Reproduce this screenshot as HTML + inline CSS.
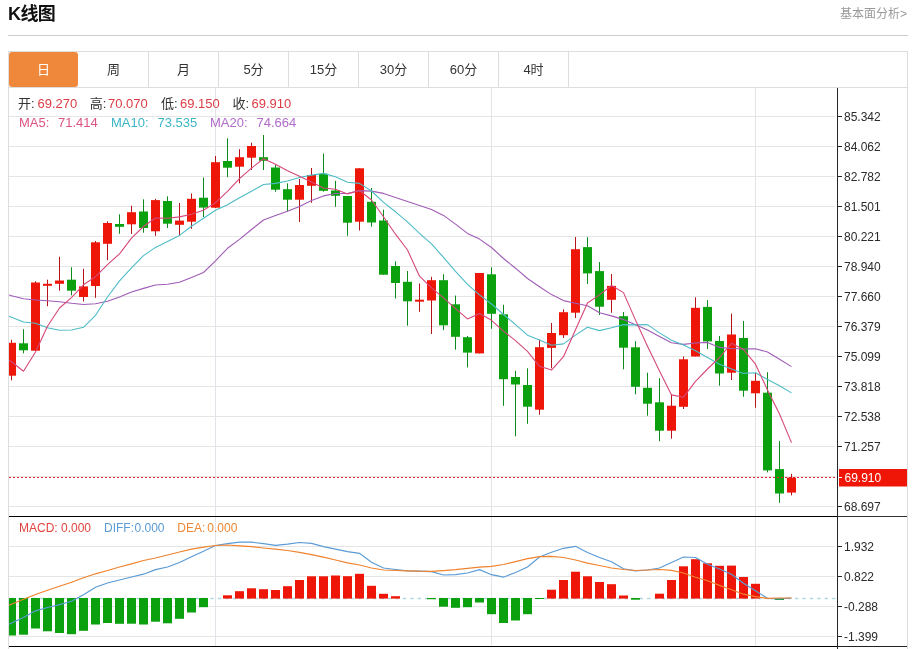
<!DOCTYPE html>
<html lang="zh-CN">
<head>
<meta charset="utf-8">
<title>K线图</title>
<style>
html,body{margin:0;padding:0;background:#fff;}
body{width:912px;height:649px;position:relative;overflow:hidden;font-family:"Liberation Sans","Noto Sans CJK SC",sans-serif;color:#333;}
.title{position:absolute;left:8px;top:2.4px;font-size:18px;line-height:24px;font-weight:bold;color:#111;letter-spacing:-0.6px;white-space:nowrap;}
.more{position:absolute;right:5px;top:5px;font-size:12px;line-height:18px;color:#999;white-space:nowrap;}
.hr{position:absolute;left:8px;top:35px;width:900px;height:1px;background:#ccc;}
.tabs{position:absolute;left:8px;top:51px;width:898px;height:35px;border:1px solid #ddd;}
.tab{position:absolute;top:0;width:69px;height:35px;border-right:1px solid #ddd;font-size:13px;line-height:36px;text-align:center;color:#333;}
.tab.on{background:#f0883c;color:#fff;border-radius:3px;border-right:0;width:69px;}
.chart{position:absolute;left:0;top:0;}
</style>
</head>
<body>
<div class="title">K线图</div>
<div class="more">基本面分析&gt;</div>
<div class="hr"></div>
<div class="tabs">
<div class="tab on" style="left:0">日</div>
<div class="tab" style="left:70px">周</div>
<div class="tab" style="left:140px">月</div>
<div class="tab" style="left:210px">5分</div>
<div class="tab" style="left:280px">15分</div>
<div class="tab" style="left:350px">30分</div>
<div class="tab" style="left:420px">60分</div>
<div class="tab" style="left:490px">4时</div>
</div>
<svg class="chart" width="912" height="649" viewBox="0 0 912 649" font-family="'Liberation Sans', 'Noto Sans CJK SC', sans-serif">
<defs><clipPath id="cp"><rect x="9" y="88" width="828" height="560"/></clipPath></defs>
<rect x="9" y="116" width="826" height="1" fill="#e5e5e6"/>
<rect x="9" y="146" width="826" height="1" fill="#e5e5e6"/>
<rect x="9" y="176" width="826" height="1" fill="#e5e5e6"/>
<rect x="9" y="206" width="826" height="1" fill="#e5e5e6"/>
<rect x="9" y="236" width="826" height="1" fill="#e5e5e6"/>
<rect x="9" y="266" width="826" height="1" fill="#e5e5e6"/>
<rect x="9" y="296" width="826" height="1" fill="#e5e5e6"/>
<rect x="9" y="326" width="826" height="1" fill="#e5e5e6"/>
<rect x="9" y="356" width="826" height="1" fill="#e5e5e6"/>
<rect x="9" y="386" width="826" height="1" fill="#e5e5e6"/>
<rect x="9" y="416" width="826" height="1" fill="#e5e5e6"/>
<rect x="9" y="446" width="826" height="1" fill="#e5e5e6"/>
<rect x="9" y="476" width="826" height="1" fill="#e5e5e6"/>
<rect x="9" y="506" width="826" height="1" fill="#e5e5e6"/>
<rect x="9" y="546" width="826" height="1" fill="#e5e5e6"/>
<rect x="9" y="576" width="826" height="1" fill="#e5e5e6"/>
<rect x="9" y="606" width="826" height="1" fill="#e5e5e6"/>
<rect x="9" y="636" width="826" height="1" fill="#e5e5e6"/>
<rect x="215" y="88" width="1" height="558" fill="#e3e4ea"/>
<rect x="491" y="88" width="1" height="558" fill="#e3e4ea"/>
<rect x="755" y="88" width="1" height="558" fill="#e3e4ea"/>
<rect x="8" y="88" width="1" height="561" fill="#ddd"/>
<rect x="907" y="88" width="1" height="561" fill="#ddd"/>
<g clip-path="url(#cp)">
<line x1="9" y1="598.5" x2="837" y2="598.5" stroke="#b2d5de" stroke-width="1.3" stroke-dasharray="3.4 4" stroke-dashoffset="-1.6"/>
<rect x="7.0" y="598" width="9" height="37.5" fill="#0aa00e"/>
<rect x="19.0" y="598" width="9" height="36.7" fill="#0aa00e"/>
<rect x="31.0" y="598" width="9" height="30.5" fill="#0aa00e"/>
<rect x="43.0" y="598" width="9" height="33.3" fill="#0aa00e"/>
<rect x="55.0" y="598" width="9" height="35.0" fill="#0aa00e"/>
<rect x="67.0" y="598" width="9" height="36.2" fill="#0aa00e"/>
<rect x="79.0" y="598" width="9" height="32.8" fill="#0aa00e"/>
<rect x="91.0" y="598" width="9" height="26.5" fill="#0aa00e"/>
<rect x="103.0" y="598" width="9" height="25.0" fill="#0aa00e"/>
<rect x="115.0" y="598" width="9" height="25.8" fill="#0aa00e"/>
<rect x="127.0" y="598" width="9" height="25.7" fill="#0aa00e"/>
<rect x="139.0" y="598" width="9" height="26.5" fill="#0aa00e"/>
<rect x="151.0" y="598" width="9" height="23.7" fill="#0aa00e"/>
<rect x="163.0" y="598" width="9" height="25.3" fill="#0aa00e"/>
<rect x="175.0" y="598" width="9" height="20.8" fill="#0aa00e"/>
<rect x="187.0" y="598" width="9" height="14.5" fill="#0aa00e"/>
<rect x="199.0" y="598" width="9" height="9.2" fill="#0aa00e"/>
<rect x="223.0" y="595.3" width="9" height="3.3" fill="#ee1608"/>
<rect x="235.0" y="591.2" width="9" height="7.4" fill="#ee1608"/>
<rect x="247.0" y="588.3" width="9" height="10.3" fill="#ee1608"/>
<rect x="259.0" y="589.2" width="9" height="9.4" fill="#ee1608"/>
<rect x="271.0" y="590.0" width="9" height="8.6" fill="#ee1608"/>
<rect x="283.0" y="586.2" width="9" height="12.4" fill="#ee1608"/>
<rect x="295.0" y="580.0" width="9" height="18.6" fill="#ee1608"/>
<rect x="307.0" y="576.3" width="9" height="22.3" fill="#ee1608"/>
<rect x="319.0" y="576.3" width="9" height="22.3" fill="#ee1608"/>
<rect x="331.0" y="575.5" width="9" height="23.1" fill="#ee1608"/>
<rect x="343.0" y="576.2" width="9" height="22.4" fill="#ee1608"/>
<rect x="355.0" y="573.8" width="9" height="24.8" fill="#ee1608"/>
<rect x="367.0" y="585.8" width="9" height="12.8" fill="#ee1608"/>
<rect x="379.0" y="593.8" width="9" height="4.8" fill="#ee1608"/>
<rect x="391.0" y="596.2" width="9" height="2.4" fill="#ee1608"/>
<rect x="427.0" y="598" width="9" height="1.2" fill="#0aa00e"/>
<rect x="439.0" y="598" width="9" height="8.7" fill="#0aa00e"/>
<rect x="451.0" y="598" width="9" height="9.8" fill="#0aa00e"/>
<rect x="463.0" y="598" width="9" height="9.2" fill="#0aa00e"/>
<rect x="475.0" y="598" width="9" height="4.5" fill="#0aa00e"/>
<rect x="487.0" y="598" width="9" height="16.2" fill="#0aa00e"/>
<rect x="499.0" y="598" width="9" height="25.0" fill="#0aa00e"/>
<rect x="511.0" y="598" width="9" height="22.5" fill="#0aa00e"/>
<rect x="523.0" y="598" width="9" height="16.2" fill="#0aa00e"/>
<rect x="535.0" y="598" width="9" height="1.0" fill="#0aa00e"/>
<rect x="547.0" y="589.7" width="9" height="8.9" fill="#ee1608"/>
<rect x="559.0" y="580.0" width="9" height="18.6" fill="#ee1608"/>
<rect x="571.0" y="571.7" width="9" height="26.9" fill="#ee1608"/>
<rect x="583.0" y="576.3" width="9" height="22.3" fill="#ee1608"/>
<rect x="595.0" y="582.0" width="9" height="16.6" fill="#ee1608"/>
<rect x="607.0" y="584.2" width="9" height="14.4" fill="#ee1608"/>
<rect x="619.0" y="595.5" width="9" height="3.1" fill="#ee1608"/>
<rect x="631.0" y="598" width="9" height="1.7" fill="#0aa00e"/>
<rect x="655.0" y="593.7" width="9" height="4.9" fill="#ee1608"/>
<rect x="667.0" y="580.0" width="9" height="18.6" fill="#ee1608"/>
<rect x="679.0" y="566.3" width="9" height="32.3" fill="#ee1608"/>
<rect x="691.0" y="559.2" width="9" height="39.4" fill="#ee1608"/>
<rect x="703.0" y="563.3" width="9" height="35.3" fill="#ee1608"/>
<rect x="715.0" y="565.8" width="9" height="32.8" fill="#ee1608"/>
<rect x="727.0" y="565.6" width="9" height="33.0" fill="#ee1608"/>
<rect x="739.0" y="577.0" width="9" height="21.6" fill="#ee1608"/>
<rect x="751.0" y="583.8" width="9" height="14.8" fill="#ee1608"/>
<rect x="775.0" y="598" width="9" height="2.0" fill="#0aa00e"/>
<path d="M-0.5 628.0 L11.5 623.0 L23.5 617.5 L35.5 610.8 L47.5 607.5 L59.5 604.7 L71.5 601.3 L83.5 594.7 L95.5 587.2 L107.5 583.0 L119.5 580.0 L131.5 577.0 L143.5 574.2 L155.5 569.7 L167.5 567.0 L179.5 562.5 L191.5 556.7 L203.5 551.3 L215.5 545.5 L227.5 543.7 L239.5 542.2 L251.5 542.2 L263.5 543.7 L275.5 545.3 L287.5 544.2 L299.5 542.5 L311.5 543.3 L323.5 546.7 L335.5 549.2 L347.5 551.7 L359.5 553.3 L371.5 562.2 L383.5 568.0 L395.5 569.5 L407.5 570.8 L419.5 571.2 L431.5 571.7 L443.5 575.0 L455.5 574.7 L467.5 573.0 L479.5 569.7 L491.5 574.7 L503.5 577.2 L515.5 572.5 L527.5 567.0 L539.5 557.0 L551.5 552.2 L563.5 548.3 L575.5 546.3 L587.5 552.5 L599.5 557.5 L611.5 561.7 L623.5 568.8 L635.5 570.8 L647.5 570.0 L659.5 568.0 L671.5 562.5 L683.5 557.0 L695.5 557.5 L707.5 564.2 L719.5 569.0 L731.5 574.2 L743.5 583.3 L755.5 590.8 L767.5 598.3 L779.5 598.8 L791.5 598.0" fill="none" stroke="#5b9bd5" stroke-width="1.2"/>
<path d="M-0.5 609.0 L11.5 604.2 L23.5 599.2 L35.5 594.5 L47.5 590.3 L59.5 586.3 L71.5 582.2 L83.5 577.8 L95.5 573.8 L107.5 570.5 L119.5 567.0 L131.5 563.8 L143.5 560.5 L155.5 558.0 L167.5 555.0 L179.5 552.0 L191.5 549.2 L203.5 547.2 L215.5 545.5 L227.5 545.0 L239.5 545.8 L251.5 546.7 L263.5 548.0 L275.5 549.2 L287.5 550.5 L299.5 552.3 L311.5 554.7 L323.5 557.2 L335.5 560.0 L347.5 562.8 L359.5 565.0 L371.5 568.0 L383.5 570.0 L395.5 570.5 L407.5 570.8 L419.5 571.2 L431.5 571.3 L443.5 570.6 L455.5 569.7 L467.5 568.3 L479.5 567.2 L491.5 566.3 L503.5 564.5 L515.5 561.7 L527.5 558.7 L539.5 556.7 L551.5 556.3 L563.5 557.5 L575.5 560.0 L587.5 563.2 L599.5 565.5 L611.5 568.0 L623.5 569.5 L635.5 570.5 L647.5 570.0 L659.5 569.5 L671.5 570.3 L683.5 573.0 L695.5 577.2 L707.5 580.8 L719.5 585.4 L731.5 589.8 L743.5 594.2 L755.5 596.7 L767.5 598.3 L779.5 598.0 L791.5 598.0" fill="none" stroke="#f0832e" stroke-width="1.2"/>
<rect x="11.0" y="339.8" width="1" height="40.5" fill="#b4141a"/>
<rect x="7.0" y="342.8" width="9" height="32.9" fill="#ee1608"/>
<rect x="23.0" y="329.2" width="1" height="24.1" fill="#0d8a1c"/>
<rect x="19.0" y="343.3" width="9" height="7.0" fill="#0aa00e"/>
<rect x="35.0" y="281.3" width="1" height="69.7" fill="#b4141a"/>
<rect x="31.0" y="282.5" width="9" height="68.2" fill="#ee1608"/>
<rect x="47.0" y="279.7" width="1" height="26.5" fill="#b4141a"/>
<rect x="43.0" y="283.8" width="9" height="2.0" fill="#ee1608"/>
<rect x="59.0" y="256.8" width="1" height="33.9" fill="#b4141a"/>
<rect x="55.0" y="280.5" width="9" height="3.3" fill="#ee1608"/>
<rect x="71.0" y="267.2" width="1" height="28.1" fill="#0d8a1c"/>
<rect x="67.0" y="279.7" width="9" height="11.0" fill="#0aa00e"/>
<rect x="83.0" y="268.8" width="1" height="32.7" fill="#b4141a"/>
<rect x="79.0" y="286.4" width="9" height="10.6" fill="#ee1608"/>
<rect x="95.0" y="241.0" width="1" height="56.8" fill="#b4141a"/>
<rect x="91.0" y="242.3" width="9" height="43.7" fill="#ee1608"/>
<rect x="107.0" y="221.3" width="1" height="38.9" fill="#b4141a"/>
<rect x="103.0" y="223.0" width="9" height="20.8" fill="#ee1608"/>
<rect x="119.0" y="214.3" width="1" height="19.5" fill="#0d8a1c"/>
<rect x="115.0" y="224.0" width="9" height="2.8" fill="#0aa00e"/>
<rect x="131.0" y="205.7" width="1" height="28.1" fill="#b4141a"/>
<rect x="127.0" y="212.2" width="9" height="12.1" fill="#ee1608"/>
<rect x="143.0" y="199.3" width="1" height="33.4" fill="#0d8a1c"/>
<rect x="139.0" y="211.5" width="9" height="16.5" fill="#0aa00e"/>
<rect x="155.0" y="198.8" width="1" height="37.0" fill="#b4141a"/>
<rect x="151.0" y="200.1" width="9" height="31.2" fill="#ee1608"/>
<rect x="167.0" y="196.3" width="1" height="31.7" fill="#0d8a1c"/>
<rect x="163.0" y="201.0" width="9" height="22.7" fill="#0aa00e"/>
<rect x="179.0" y="203.0" width="1" height="32.5" fill="#b4141a"/>
<rect x="175.0" y="220.6" width="9" height="4.2" fill="#ee1608"/>
<rect x="191.0" y="193.5" width="1" height="35.3" fill="#b4141a"/>
<rect x="187.0" y="198.8" width="9" height="22.9" fill="#ee1608"/>
<rect x="203.0" y="177.5" width="1" height="39.5" fill="#0d8a1c"/>
<rect x="199.0" y="197.7" width="9" height="9.9" fill="#0aa00e"/>
<rect x="215.0" y="156.0" width="1" height="52.0" fill="#b4141a"/>
<rect x="211.0" y="162.2" width="9" height="45.5" fill="#ee1608"/>
<rect x="227.0" y="138.3" width="1" height="38.9" fill="#0d8a1c"/>
<rect x="223.0" y="161.0" width="9" height="6.7" fill="#0aa00e"/>
<rect x="239.0" y="149.2" width="1" height="34.1" fill="#b4141a"/>
<rect x="235.0" y="157.2" width="9" height="9.5" fill="#ee1608"/>
<rect x="251.0" y="142.7" width="1" height="27.3" fill="#b4141a"/>
<rect x="247.0" y="146.0" width="9" height="11.7" fill="#ee1608"/>
<rect x="263.0" y="135.0" width="1" height="35.0" fill="#0d8a1c"/>
<rect x="259.0" y="157.2" width="9" height="3.6" fill="#0aa00e"/>
<rect x="275.0" y="165.0" width="1" height="26.8" fill="#0d8a1c"/>
<rect x="271.0" y="167.5" width="9" height="22.2" fill="#0aa00e"/>
<rect x="287.0" y="183.3" width="1" height="28.0" fill="#0d8a1c"/>
<rect x="283.0" y="189.2" width="9" height="10.5" fill="#0aa00e"/>
<rect x="299.0" y="179.0" width="1" height="43.0" fill="#b4141a"/>
<rect x="295.0" y="185.0" width="9" height="14.7" fill="#ee1608"/>
<rect x="311.0" y="168.0" width="1" height="34.7" fill="#b4141a"/>
<rect x="307.0" y="175.0" width="9" height="10.8" fill="#ee1608"/>
<rect x="323.0" y="153.5" width="1" height="38.2" fill="#0d8a1c"/>
<rect x="319.0" y="173.8" width="9" height="17.0" fill="#0aa00e"/>
<rect x="335.0" y="180.8" width="1" height="25.9" fill="#0d8a1c"/>
<rect x="331.0" y="190.5" width="9" height="5.3" fill="#0aa00e"/>
<rect x="347.0" y="196.0" width="1" height="39.8" fill="#0d8a1c"/>
<rect x="343.0" y="196.0" width="9" height="26.7" fill="#0aa00e"/>
<rect x="359.0" y="168.3" width="1" height="62.2" fill="#b4141a"/>
<rect x="355.0" y="168.3" width="9" height="53.4" fill="#ee1608"/>
<rect x="371.0" y="188.0" width="1" height="38.7" fill="#0d8a1c"/>
<rect x="367.0" y="201.8" width="9" height="20.7" fill="#0aa00e"/>
<rect x="383.0" y="209.7" width="1" height="65.0" fill="#0d8a1c"/>
<rect x="379.0" y="220.5" width="9" height="54.2" fill="#0aa00e"/>
<rect x="395.0" y="261.3" width="1" height="37.2" fill="#0d8a1c"/>
<rect x="391.0" y="266.0" width="9" height="17.0" fill="#0aa00e"/>
<rect x="407.0" y="271.0" width="1" height="54.7" fill="#0d8a1c"/>
<rect x="403.0" y="281.8" width="9" height="19.5" fill="#0aa00e"/>
<rect x="419.0" y="283.5" width="1" height="28.3" fill="#b4141a"/>
<rect x="415.0" y="299.7" width="9" height="2.0" fill="#ee1608"/>
<rect x="431.0" y="276.8" width="1" height="57.2" fill="#b4141a"/>
<rect x="427.0" y="280.2" width="9" height="20.3" fill="#ee1608"/>
<rect x="443.0" y="274.2" width="1" height="56.0" fill="#0d8a1c"/>
<rect x="439.0" y="280.2" width="9" height="45.1" fill="#0aa00e"/>
<rect x="455.0" y="295.5" width="1" height="54.2" fill="#0d8a1c"/>
<rect x="451.0" y="304.3" width="9" height="32.5" fill="#0aa00e"/>
<rect x="467.0" y="336.0" width="1" height="31.5" fill="#0d8a1c"/>
<rect x="463.0" y="337.2" width="9" height="15.4" fill="#0aa00e"/>
<rect x="479.0" y="273.0" width="1" height="80.4" fill="#b4141a"/>
<rect x="475.0" y="273.0" width="9" height="80.4" fill="#ee1608"/>
<rect x="491.0" y="267.3" width="1" height="61.5" fill="#0d8a1c"/>
<rect x="487.0" y="274.3" width="9" height="39.5" fill="#0aa00e"/>
<rect x="503.0" y="304.7" width="1" height="101.1" fill="#0d8a1c"/>
<rect x="499.0" y="314.3" width="9" height="64.9" fill="#0aa00e"/>
<rect x="515.0" y="370.8" width="1" height="65.5" fill="#0d8a1c"/>
<rect x="511.0" y="377.0" width="9" height="7.5" fill="#0aa00e"/>
<rect x="527.0" y="368.3" width="1" height="55.5" fill="#0d8a1c"/>
<rect x="523.0" y="385.0" width="9" height="21.7" fill="#0aa00e"/>
<rect x="539.0" y="339.6" width="1" height="75.1" fill="#b4141a"/>
<rect x="535.0" y="347.2" width="9" height="62.5" fill="#ee1608"/>
<rect x="551.0" y="323.0" width="1" height="45.3" fill="#b4141a"/>
<rect x="547.0" y="333.0" width="9" height="14.9" fill="#ee1608"/>
<rect x="563.0" y="309.3" width="1" height="28.7" fill="#b4141a"/>
<rect x="559.0" y="312.2" width="9" height="23.0" fill="#ee1608"/>
<rect x="575.0" y="237.0" width="1" height="81.0" fill="#b4141a"/>
<rect x="571.0" y="249.2" width="9" height="63.5" fill="#ee1608"/>
<rect x="587.0" y="237.2" width="1" height="46.8" fill="#0d8a1c"/>
<rect x="583.0" y="247.1" width="9" height="26.3" fill="#0aa00e"/>
<rect x="599.0" y="262.1" width="1" height="52.9" fill="#0d8a1c"/>
<rect x="595.0" y="271.1" width="9" height="35.6" fill="#0aa00e"/>
<rect x="611.0" y="274.0" width="1" height="38.8" fill="#b4141a"/>
<rect x="607.0" y="285.9" width="9" height="13.9" fill="#ee1608"/>
<rect x="623.0" y="312.0" width="1" height="57.3" fill="#0d8a1c"/>
<rect x="619.0" y="316.2" width="9" height="31.5" fill="#0aa00e"/>
<rect x="635.0" y="341.2" width="1" height="53.1" fill="#0d8a1c"/>
<rect x="631.0" y="347.3" width="9" height="39.5" fill="#0aa00e"/>
<rect x="647.0" y="372.7" width="1" height="43.0" fill="#0d8a1c"/>
<rect x="643.0" y="387.8" width="9" height="15.9" fill="#0aa00e"/>
<rect x="659.0" y="378.2" width="1" height="63.0" fill="#0d8a1c"/>
<rect x="655.0" y="402.3" width="9" height="28.4" fill="#0aa00e"/>
<rect x="671.0" y="394.0" width="1" height="44.7" fill="#b4141a"/>
<rect x="667.0" y="405.7" width="9" height="25.0" fill="#ee1608"/>
<rect x="683.0" y="356.5" width="1" height="52.5" fill="#b4141a"/>
<rect x="679.0" y="359.3" width="9" height="47.5" fill="#ee1608"/>
<rect x="695.0" y="297.3" width="1" height="59.2" fill="#b4141a"/>
<rect x="691.0" y="307.8" width="9" height="48.7" fill="#ee1608"/>
<rect x="707.0" y="300.1" width="1" height="48.9" fill="#0d8a1c"/>
<rect x="703.0" y="306.9" width="9" height="34.5" fill="#0aa00e"/>
<rect x="719.0" y="336.0" width="1" height="49.7" fill="#0d8a1c"/>
<rect x="715.0" y="341.0" width="9" height="32.5" fill="#0aa00e"/>
<rect x="731.0" y="313.6" width="1" height="66.4" fill="#b4141a"/>
<rect x="727.0" y="334.5" width="9" height="38.2" fill="#ee1608"/>
<rect x="743.0" y="321.0" width="1" height="75.8" fill="#0d8a1c"/>
<rect x="739.0" y="338.0" width="9" height="52.7" fill="#0aa00e"/>
<rect x="755.0" y="373.0" width="1" height="34.7" fill="#b4141a"/>
<rect x="751.0" y="380.8" width="9" height="12.5" fill="#ee1608"/>
<rect x="767.0" y="372.2" width="1" height="100.2" fill="#0d8a1c"/>
<rect x="763.0" y="392.7" width="9" height="77.7" fill="#0aa00e"/>
<rect x="779.0" y="441.1" width="1" height="61.7" fill="#0d8a1c"/>
<rect x="775.0" y="469.1" width="9" height="24.4" fill="#0aa00e"/>
<rect x="791.0" y="473.8" width="1" height="21.6" fill="#b4141a"/>
<rect x="787.0" y="477.6" width="9" height="15.0" fill="#ee1608"/>
<path d="M-0.5 292.5 L11.5 295.7 L23.5 298.7 L35.5 300.0 L47.5 300.8 L59.5 301.7 L71.5 303.3 L83.5 304.5 L95.5 303.7 L107.5 301.2 L119.5 297.0 L131.5 292.0 L143.5 288.4 L155.5 285.0 L167.5 284.2 L179.5 282.2 L191.5 277.5 L203.5 272.5 L215.5 260.8 L227.5 248.3 L239.5 239.4 L251.5 229.5 L263.5 220.0 L275.5 215.4 L287.5 211.2 L299.5 206.4 L311.5 200.6 L323.5 195.9 L335.5 193.5 L347.5 193.5 L359.5 190.6 L371.5 191.1 L383.5 193.4 L395.5 197.6 L407.5 201.5 L419.5 205.4 L431.5 209.5 L443.5 215.4 L455.5 224.1 L467.5 233.4 L479.5 239.1 L491.5 247.5 L503.5 258.5 L515.5 268.2 L527.5 278.5 L539.5 286.7 L551.5 294.6 L563.5 300.6 L575.5 303.3 L587.5 305.8 L599.5 312.8 L611.5 315.9 L623.5 319.6 L635.5 324.8 L647.5 329.9 L659.5 336.4 L671.5 342.7 L683.5 344.4 L695.5 343.0 L707.5 342.4 L719.5 347.4 L731.5 348.5 L743.5 349.0 L755.5 348.8 L767.5 352.0 L779.5 359.3 L791.5 366.6" fill="none" stroke="#a05cb6" stroke-width="1.1" stroke-linejoin="round"/>
<path d="M-0.5 312.5 L11.5 317.3 L23.5 322.0 L35.5 323.3 L47.5 327.8 L59.5 330.3 L71.5 330.0 L83.5 327.3 L95.5 315.3 L107.5 297.0 L119.5 280.9 L131.5 267.9 L143.5 255.6 L155.5 247.4 L167.5 241.4 L179.5 235.4 L191.5 226.2 L203.5 218.3 L215.5 210.3 L227.5 204.8 L239.5 197.8 L251.5 191.2 L263.5 184.5 L275.5 183.4 L287.5 181.0 L299.5 177.5 L311.5 175.1 L323.5 173.4 L335.5 176.8 L347.5 182.3 L359.5 183.4 L371.5 191.0 L383.5 202.4 L395.5 211.8 L407.5 221.9 L419.5 233.4 L431.5 243.9 L443.5 257.4 L455.5 271.4 L467.5 284.4 L479.5 294.9 L491.5 304.0 L503.5 314.5 L515.5 324.6 L527.5 335.2 L539.5 339.9 L551.5 345.2 L563.5 343.9 L575.5 335.1 L587.5 327.2 L599.5 330.6 L611.5 327.8 L623.5 324.6 L635.5 324.9 L647.5 324.6 L659.5 332.9 L671.5 340.2 L683.5 344.9 L695.5 350.8 L707.5 357.6 L719.5 364.2 L731.5 369.1 L743.5 373.4 L755.5 372.8 L767.5 379.5 L779.5 385.8 L791.5 392.9" fill="none" stroke="#4dbcc6" stroke-width="1.1" stroke-linejoin="round"/>
<path d="M-0.5 355.0 L11.5 361.7 L23.5 371.2 L35.5 352.0 L47.5 326.2 L59.5 308.0 L71.5 297.6 L83.5 284.8 L95.5 276.7 L107.5 264.6 L119.5 253.8 L131.5 238.1 L143.5 226.5 L155.5 218.0 L167.5 218.2 L179.5 216.9 L191.5 214.2 L203.5 210.2 L215.5 202.6 L227.5 191.4 L239.5 178.7 L251.5 168.1 L263.5 158.8 L275.5 164.3 L287.5 170.7 L299.5 176.2 L311.5 182.0 L323.5 188.0 L335.5 189.3 L347.5 193.9 L359.5 190.5 L371.5 200.0 L383.5 216.8 L395.5 234.2 L407.5 250.0 L419.5 276.2 L431.5 287.8 L443.5 297.9 L455.5 308.7 L467.5 318.9 L479.5 313.6 L491.5 320.3 L503.5 331.1 L515.5 340.6 L527.5 351.4 L539.5 366.3 L551.5 370.1 L563.5 356.7 L575.5 329.7 L587.5 303.0 L599.5 294.9 L611.5 285.5 L623.5 292.6 L635.5 320.1 L647.5 346.2 L659.5 371.0 L671.5 394.9 L683.5 397.2 L695.5 381.4 L707.5 369.0 L719.5 357.5 L731.5 343.3 L743.5 349.6 L755.5 364.2 L767.5 390.0 L779.5 414.0 L791.5 442.6" fill="none" stroke="#d6487a" stroke-width="1.1" stroke-linejoin="round"/>
<line x1="9" y1="477.5" x2="837" y2="477.5" stroke="#e8202a" stroke-width="1" stroke-dasharray="2 2"/>
</g>
<rect x="9" y="516" width="898" height="1" fill="#333"/>
<rect x="9" y="516" width="828" height="1" fill="#000"/>
<rect x="9" y="646" width="898" height="1" fill="#222"/>
<rect x="9" y="646" width="828" height="1" fill="#000"/>
<rect x="837" y="88" width="1" height="561" fill="#262626"/>
<rect x="838" y="116" width="4" height="1" fill="#262626"/>
<text x="844" y="120.8" font-size="12" fill="#2a2a2a">85.342</text>
<rect x="838" y="146" width="4" height="1" fill="#262626"/>
<text x="844" y="150.8" font-size="12" fill="#2a2a2a">84.062</text>
<rect x="838" y="176" width="4" height="1" fill="#262626"/>
<text x="844" y="180.8" font-size="12" fill="#2a2a2a">82.782</text>
<rect x="838" y="206" width="4" height="1" fill="#262626"/>
<text x="844" y="210.8" font-size="12" fill="#2a2a2a">81.501</text>
<rect x="838" y="236" width="4" height="1" fill="#262626"/>
<text x="844" y="240.8" font-size="12" fill="#2a2a2a">80.221</text>
<rect x="838" y="266" width="4" height="1" fill="#262626"/>
<text x="844" y="270.8" font-size="12" fill="#2a2a2a">78.940</text>
<rect x="838" y="296" width="4" height="1" fill="#262626"/>
<text x="844" y="300.8" font-size="12" fill="#2a2a2a">77.660</text>
<rect x="838" y="326" width="4" height="1" fill="#262626"/>
<text x="844" y="330.8" font-size="12" fill="#2a2a2a">76.379</text>
<rect x="838" y="356" width="4" height="1" fill="#262626"/>
<text x="844" y="360.8" font-size="12" fill="#2a2a2a">75.099</text>
<rect x="838" y="386" width="4" height="1" fill="#262626"/>
<text x="844" y="390.8" font-size="12" fill="#2a2a2a">73.818</text>
<rect x="838" y="416" width="4" height="1" fill="#262626"/>
<text x="844" y="420.8" font-size="12" fill="#2a2a2a">72.538</text>
<rect x="838" y="446" width="4" height="1" fill="#262626"/>
<text x="844" y="450.8" font-size="12" fill="#2a2a2a">71.257</text>
<rect x="838" y="506" width="4" height="1" fill="#262626"/>
<text x="844" y="510.8" font-size="12" fill="#2a2a2a">68.697</text>
<rect x="838" y="546" width="4" height="1" fill="#262626"/>
<text x="844" y="550.8" font-size="12" fill="#2a2a2a">1.932</text>
<rect x="838" y="576" width="4" height="1" fill="#262626"/>
<text x="844" y="580.8" font-size="12" fill="#2a2a2a">0.822</text>
<rect x="838" y="606" width="4" height="1" fill="#262626"/>
<text x="844" y="610.8" font-size="12" fill="#2a2a2a">-0.288</text>
<rect x="838" y="636" width="4" height="1" fill="#262626"/>
<text x="844" y="640.8" font-size="12" fill="#2a2a2a">-1.399</text>
<rect x="839" y="469" width="68" height="17.5" fill="#ef1607"/>
<rect x="838" y="477" width="4" height="1" fill="#fff"/>
<text x="844.5" y="482.3" font-size="12" fill="#fff">69.910</text>
<text x="18.0" y="108.2" font-size="13" fill="#333">开:</text>
<text x="37.5" y="108.2" font-size="13" fill="#dc3c44">69.270</text>
<text x="89.7" y="108.2" font-size="13" fill="#333">高:</text>
<text x="108.0" y="108.2" font-size="13" fill="#dc3c44">70.070</text>
<text x="161.0" y="108.2" font-size="13" fill="#333">低:</text>
<text x="180.0" y="108.2" font-size="13" fill="#dc3c44">69.150</text>
<text x="232.5" y="108.2" font-size="13" fill="#333">收:</text>
<text x="251.5" y="108.2" font-size="13" fill="#dc3c44">69.910</text>
<text x="19.0" y="126.6" font-size="13" fill="#dc5482">MA5:</text>
<text x="58.0" y="126.6" font-size="13" fill="#dc5482">71.414</text>
<text x="111.0" y="126.6" font-size="13" fill="#3cb6c6">MA10:</text>
<text x="157.5" y="126.6" font-size="13" fill="#3cb6c6">73.535</text>
<text x="210.0" y="126.6" font-size="13" fill="#b06cc8">MA20:</text>
<text x="256.5" y="126.6" font-size="13" fill="#b06cc8">74.664</text>
<text x="19.0" y="531.5" font-size="12" fill="#e0443e">MACD:</text>
<text x="61.0" y="531.5" font-size="12" fill="#e0443e">0.000</text>
<text x="104.0" y="531.5" font-size="12" fill="#5b9bd5">DIFF:</text>
<text x="134.5" y="531.5" font-size="12" fill="#5b9bd5">0.000</text>
<text x="177.3" y="531.5" font-size="12" fill="#ed8736">DEA:</text>
<text x="207.3" y="531.5" font-size="12" fill="#ed8736">0.000</text>
</svg>
</body>
</html>
